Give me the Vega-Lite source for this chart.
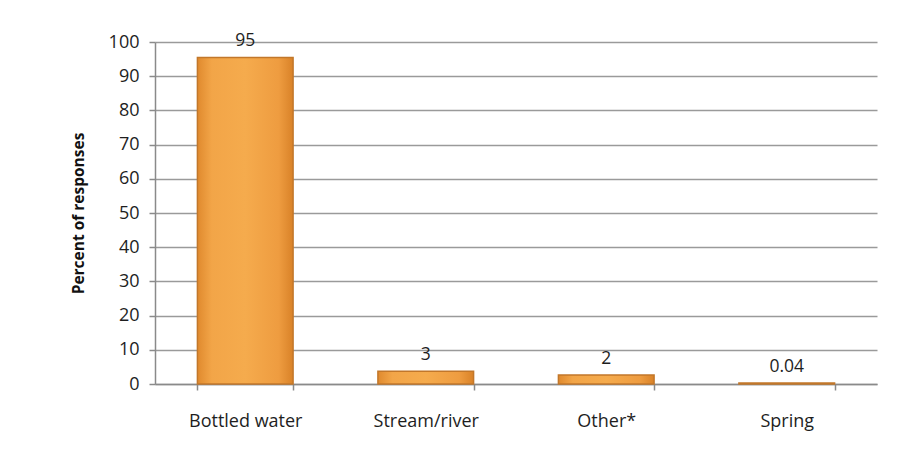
{
  "$schema": "https://vega.github.io/schema/vega-lite/v6.json",
  "autosize": "none",
  "width": 722,
  "height": 342,
  "padding": {"left": 155, "top": 42, "right": 42, "bottom": 70},
  "background": "white",
  "config": {
    "font": "Open Sans",
    "view": {"stroke": null},
    "axis": {"labelFont": "Open Sans", "titleFont": "Open Sans", "labelColor": "#1e1e1e", "titleColor": "#111111"}
  },
  "data": {
    "values": [
      {"source": "Bottled water", "percent": 95.5, "label": "95"},
      {"source": "Stream/river", "percent": 3.7, "label": "3"},
      {"source": "Other*", "percent": 2.6, "label": "2"},
      {"source": "Spring", "percent": 0.3, "label": "0.04"}
    ]
  },
  "encoding": {
    "x": {
      "field": "source", "type": "nominal", "sort": null,
      "scale": {"paddingInner": 0.47, "paddingOuter": 0.235},
      "axis": {"title": null, "labelAngle": 0, "labelFontSize": 18, "labelPadding": 22, "tickBand": "extent", "tickSize": 6, "tickColor": "#8a8a8a", "tickWidth": 1.5, "domainColor": "#8a8a8a", "domainWidth": 1.5, "grid": false}
    },
    "y": {
      "field": "percent", "type": "quantitative",
      "scale": {"domain": [0, 100], "nice": false},
      "axis": {"title": "Percent of responses", "titleFontSize": 15.5, "titleFontWeight": "bold", "titlePadding": 22, "labelFontSize": 18, "labelPadding": 10, "values": [0,10,20,30,40,50,60,70,80,90,100], "labelOverlap": false, "tickSize": 6, "tickColor": "#8a8a8a", "tickWidth": 1.5, "domainColor": "#8a8a8a", "domainWidth": 1.5, "gridColor": "#9a9a9a", "gridWidth": 1.5}
    }
  },
  "layer": [
    {
      "mark": {
        "type": "bar",
        "stroke": "#c2772a",
        "strokeWidth": 1.5,
        "fill": {
          "gradient": "linear", "x1": 0, "y1": 0, "x2": 1, "y2": 0,
          "stops": [
            {"offset": 0, "color": "#e08a2e"},
            {"offset": 0.15, "color": "#f2a548"},
            {"offset": 0.5, "color": "#f5ab4d"},
            {"offset": 0.85, "color": "#ee9c40"},
            {"offset": 1, "color": "#d98228"}
          ]
        }
      }
    },
    {
      "mark": {"type": "text", "baseline": "bottom", "dy": -7, "fontSize": 17.5, "color": "#1e1e1e"},
      "encoding": {"text": {"field": "label"}}
    }
  ]
}
